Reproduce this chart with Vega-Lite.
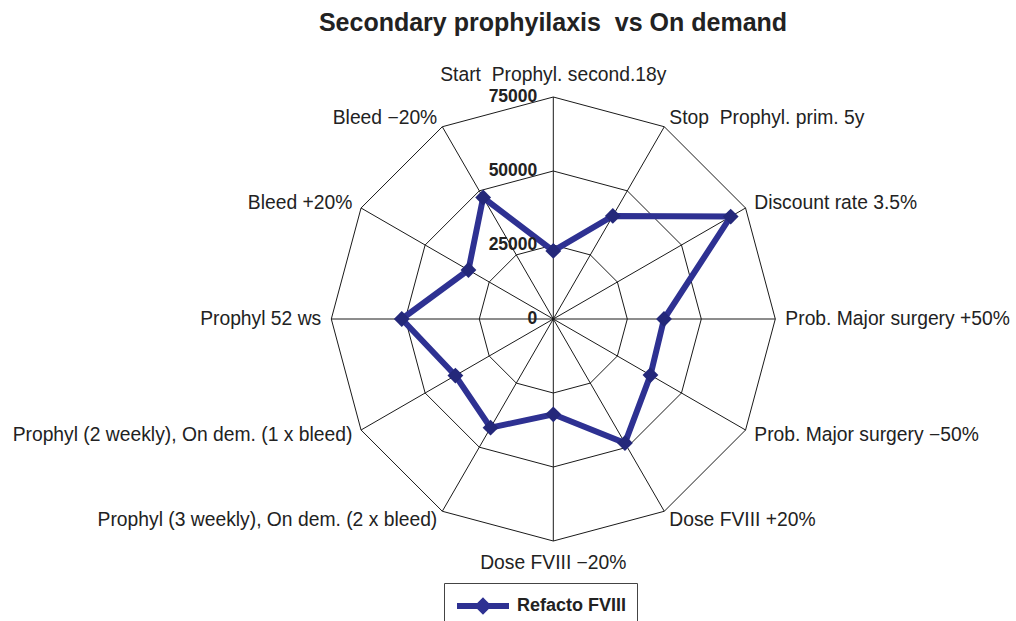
{
  "$schema": "https://vega.github.io/schema/vega-lite/v6.json",
  "width": 1016,
  "height": 621,
  "autosize": {"type": "none"},
  "padding": 0,
  "background": "white",
  "config": {"view": {"stroke": null}, "font": "Liberation Sans"},
  "title": {
    "text": "Secondary prophyilaxis \u00a0vs On demand",
    "font": "Liberation Sans",
    "fontSize": 25,
    "fontWeight": "bold",
    "color": "#222222",
    "anchor": "middle",
    "frame": "group",
    "baseline": "alphabetic",
    "offset": -33,
    "dy": 23,
    "dx": 45
  },
  "datasets": {
    "axes": [
      {"idx": 0, "label": "Start \u00a0Prophyl. second.18y", "value": 23000},
      {"idx": 1, "label": "Stop \u00a0Prophyl. prim. 5y", "value": 40200},
      {"idx": 2, "label": "Discount rate 3.5%", "value": 69200},
      {"idx": 3, "label": "Prob. Major surgery +50%", "value": 37400},
      {"idx": 4, "label": "Prob. Major surgery −50%", "value": 37900},
      {"idx": 5, "label": "Dose FVIII +20%", "value": 48400},
      {"idx": 6, "label": "Dose FVIII −20%", "value": 32200},
      {"idx": 7, "label": "Prophyl (3 weekly), On dem. (2 x bleed)", "value": 42400},
      {"idx": 8, "label": "Prophyl (2 weekly), On dem. (1 x bleed)", "value": 38200},
      {"idx": 9, "label": "Prophyl 52 ws", "value": 51200},
      {"idx": 10, "label": "Bleed +20%", "value": 33100},
      {"idx": 11, "label": "Bleed −20%", "value": 47400}
    ],
    "levels": [
      {"level": 0},
      {"level": 25000},
      {"level": 50000},
      {"level": 75000}
    ]
  },
  "layer": [
    {
      "data": {"name": "axes"},
      "transform": [
        {"calculate": "25000", "as": "r25"},
        {"calculate": "50000", "as": "r50"},
        {"calculate": "75000", "as": "r75"},
        {"fold": ["r25", "r50", "r75"], "as": ["ring", "level"]},
        {"calculate": "PI/2 - datum.idx*PI/6", "as": "a1"},
        {"calculate": "datum.a1 - PI/6", "as": "a2"},
        {"calculate": "datum.level*cos(datum.a1)", "as": "gx"},
        {"calculate": "datum.level*sin(datum.a1)", "as": "gy"},
        {"calculate": "datum.level*cos(datum.a2)", "as": "gx2"},
        {"calculate": "datum.level*sin(datum.a2)", "as": "gy2"}
      ],
      "mark": {"type": "rule", "color": "#1a1a1a", "strokeWidth": 1},
      "encoding": {
        "x": {"field": "gx", "type": "quantitative", "scale": {"domain": [-186929, 156318], "zero": false, "nice": false}, "axis": null},
        "y": {"field": "gy", "type": "quantitative", "scale": {"domain": [-102027, 107771], "zero": false, "nice": false}, "axis": null},
        "x2": {"field": "gx2"},
        "y2": {"field": "gy2"}
      }
    },
    {
      "data": {"name": "axes"},
      "transform": [
        {"calculate": "PI/2 - datum.idx*PI/6", "as": "a"},
        {"calculate": "75000*cos(datum.a)", "as": "vx"},
        {"calculate": "75000*sin(datum.a)", "as": "vy"}
      ],
      "mark": {"type": "rule", "color": "#1a1a1a", "strokeWidth": 1},
      "encoding": {
        "x": {"field": "vx", "type": "quantitative", "scale": {"domain": [-186929, 156318], "zero": false, "nice": false}, "axis": null},
        "y": {"field": "vy", "type": "quantitative", "scale": {"domain": [-102027, 107771], "zero": false, "nice": false}, "axis": null},
        "x2": {"datum": 0},
        "y2": {"datum": 0}
      }
    },
    {
      "data": {"name": "axes"},
      "transform": [
        {"calculate": "PI/2 - datum.idx*PI/6", "as": "a"},
        {"calculate": "datum.value*cos(datum.a)", "as": "px"},
        {"calculate": "datum.value*sin(datum.a)", "as": "py"},
        {"calculate": "'Refacto FVIII'", "as": "series"}
      ],
      "mark": {"type": "line", "interpolate": "linear-closed", "strokeWidth": 6, "strokeJoin": "miter"},
      "encoding": {
        "x": {"field": "px", "type": "quantitative", "scale": {"domain": [-186929, 156318], "zero": false, "nice": false}, "axis": null},
        "y": {"field": "py", "type": "quantitative", "scale": {"domain": [-102027, 107771], "zero": false, "nice": false}, "axis": null},
        "order": {"field": "idx", "type": "quantitative"},
        "color": {
          "field": "series",
          "type": "nominal",
          "scale": {"domain": ["Refacto FVIII"], "range": ["#2E3192"]},
          "legend": {
            "title": null,
            "orient": "none",
            "legendX": 444,
            "legendY": 583,
            "strokeColor": "#444444",
            "fillColor": "white",
            "padding": 10,
            "symbolType": "M-1,0L4.2,0M1.6,-0.45L2.05,0L1.6,0.45L1.15,0Z",
            "symbolSize": 400,
            "symbolStrokeWidth": 6,
            "symbolFillColor": "#2E3192",
            "symbolStrokeColor": "#2E3192",
            "labelFont": "Liberation Sans",
            "labelFontSize": 18,
            "labelFontWeight": "bold",
            "labelColor": "#222222",
            "labelOffset": 37,
            "encode": {"symbols": {"update": {"fill": {"value": "#2E3192"}, "stroke": {"value": "#2E3192"}, "strokeWidth": {"value": 6}}}}
          }
        }
      }
    },
    {
      "data": {"name": "axes"},
      "transform": [
        {"calculate": "PI/2 - datum.idx*PI/6", "as": "a"},
        {"calculate": "datum.value*cos(datum.a)", "as": "px"},
        {"calculate": "datum.value*sin(datum.a)", "as": "py"}
      ],
      "mark": {"type": "point", "shape": "diamond", "filled": true, "size": 250, "color": "#24287A", "opacity": 1},
      "encoding": {
        "x": {"field": "px", "type": "quantitative", "scale": {"domain": [-186929, 156318], "zero": false, "nice": false}, "axis": null},
        "y": {"field": "py", "type": "quantitative", "scale": {"domain": [-102027, 107771], "zero": false, "nice": false}, "axis": null}
      }
    },
    {
      "data": {"name": "axes"},
      "transform": [
        {"filter": "datum.idx == 0 || datum.idx == 6"},
        {"calculate": "PI/2 - datum.idx*PI/6", "as": "a"},
        {"calculate": "82500*cos(datum.a)", "as": "lx"},
        {"calculate": "82500*sin(datum.a)", "as": "ly"}
      ],
      "mark": {"type": "text", "align": "center", "baseline": "middle", "font": "Liberation Sans", "fontSize": 19.3, "color": "#222222"},
      "encoding": {
        "x": {"field": "lx", "type": "quantitative", "scale": {"domain": [-186929, 156318], "zero": false, "nice": false}, "axis": null},
        "y": {"field": "ly", "type": "quantitative", "scale": {"domain": [-102027, 107771], "zero": false, "nice": false}, "axis": null},
        "text": {"field": "label"}
      }
    },
    {
      "data": {"name": "axes"},
      "transform": [
        {"filter": "datum.idx >= 1 && datum.idx <= 5"},
        {"calculate": "PI/2 - datum.idx*PI/6", "as": "a"},
        {"calculate": "78400*cos(datum.a)", "as": "lx"},
        {"calculate": "78400*sin(datum.a)", "as": "ly"}
      ],
      "mark": {"type": "text", "align": "left", "baseline": "middle", "font": "Liberation Sans", "fontSize": 19.3, "color": "#222222"},
      "encoding": {
        "x": {"field": "lx", "type": "quantitative", "scale": {"domain": [-186929, 156318], "zero": false, "nice": false}, "axis": null},
        "y": {"field": "ly", "type": "quantitative", "scale": {"domain": [-102027, 107771], "zero": false, "nice": false}, "axis": null},
        "text": {"field": "label"}
      }
    },
    {
      "data": {"name": "axes"},
      "transform": [
        {"filter": "datum.idx >= 7"},
        {"calculate": "PI/2 - datum.idx*PI/6", "as": "a"},
        {"calculate": "78400*cos(datum.a)", "as": "lx"},
        {"calculate": "78400*sin(datum.a)", "as": "ly"}
      ],
      "mark": {"type": "text", "align": "right", "baseline": "middle", "font": "Liberation Sans", "fontSize": 19.3, "color": "#222222"},
      "encoding": {
        "x": {"field": "lx", "type": "quantitative", "scale": {"domain": [-186929, 156318], "zero": false, "nice": false}, "axis": null},
        "y": {"field": "ly", "type": "quantitative", "scale": {"domain": [-102027, 107771], "zero": false, "nice": false}, "axis": null},
        "text": {"field": "label"}
      }
    },
    {
      "data": {"name": "levels"},
      "mark": {"type": "text", "align": "right", "baseline": "middle", "dx": -16, "font": "Liberation Sans", "fontSize": 17.5, "fontWeight": "bold", "color": "#222222"},
      "encoding": {
        "x": {"datum": 0, "type": "quantitative", "scale": {"domain": [-186929, 156318], "zero": false, "nice": false}, "axis": null},
        "y": {"field": "level", "type": "quantitative", "scale": {"domain": [-102027, 107771], "zero": false, "nice": false}, "axis": null},
        "text": {"field": "level", "type": "quantitative", "format": "d"}
      }
    }
  ]
}
